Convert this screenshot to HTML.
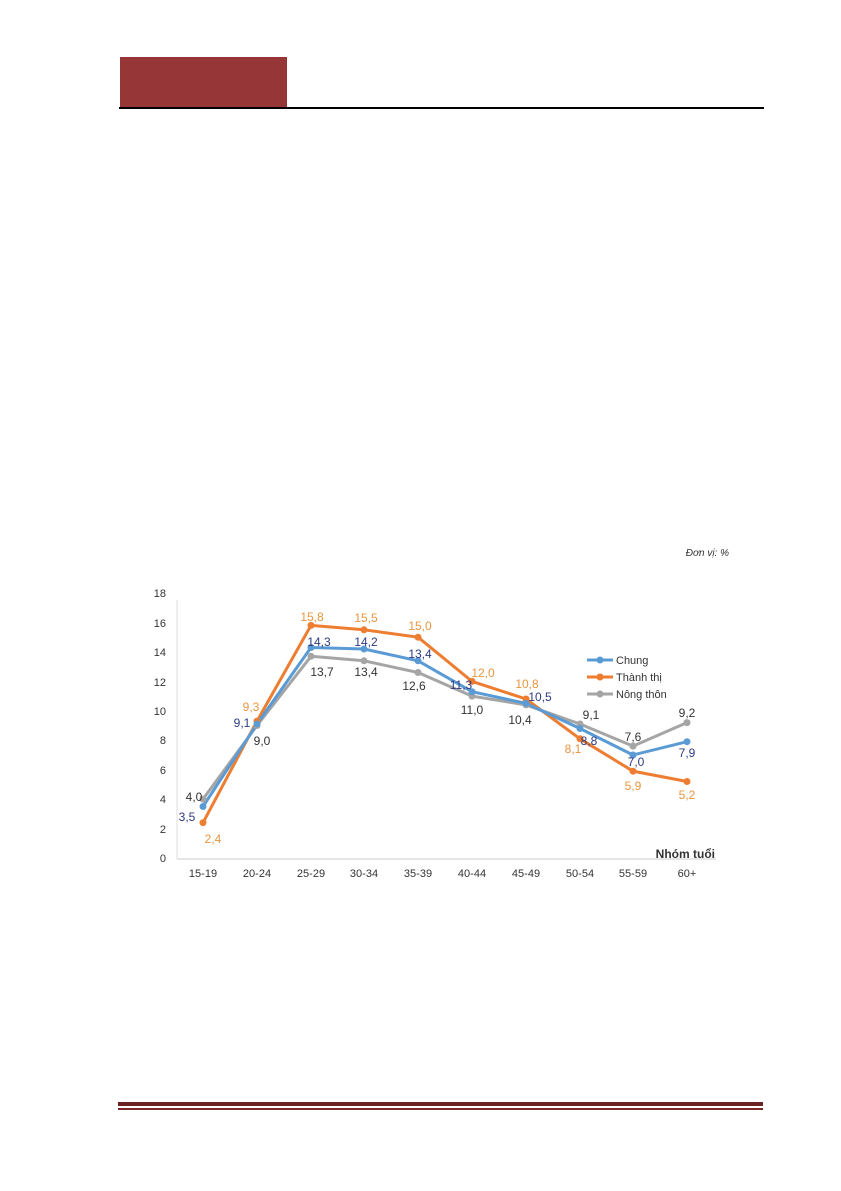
<!DOCTYPE html>
<html><head><meta charset="utf-8"><style>
body{margin:0;background:#fff;width:841px;height:1191px;position:relative;overflow:hidden;font-family:"Liberation Sans",sans-serif}
</style></head><body>
<div style="position:absolute;left:120px;top:57px;width:167px;height:50px;background:#963636"></div>
<div style="position:absolute;left:119px;top:107px;width:645px;height:1.5px;background:#000"></div>
<div style="position:absolute;left:118px;top:1102px;width:645px;height:4px;background:#6b2424"></div>
<div style="position:absolute;left:118px;top:1108px;width:645px;height:1.5px;background:#7a2a2a"></div>
<svg width="841" height="1191" style="position:absolute;left:0;top:0" font-family="Liberation Sans, sans-serif">
<text x="729" y="556" font-size="10" font-style="italic" text-anchor="end" fill="#333">Đơn vị: %</text>
<line x1="177" y1="600" x2="177" y2="859" stroke="#ddd"/>
<line x1="177" y1="859" x2="716" y2="859" stroke="#ccc"/>
<g font-size="11" fill="#333" text-anchor="end">
<text x="166" y="862">0</text><text x="166" y="833">2</text><text x="166" y="803">4</text><text x="166" y="774">6</text><text x="166" y="744">8</text><text x="166" y="715">10</text><text x="166" y="686">12</text><text x="166" y="656">14</text><text x="166" y="627">16</text><text x="166" y="597">18</text>
</g>
<g font-size="11" fill="#333" text-anchor="middle">
<text x="203" y="877">15-19</text><text x="257" y="877">20-24</text><text x="311" y="877">25-29</text><text x="364" y="877">30-34</text><text x="418" y="877">35-39</text><text x="472" y="877">40-44</text><text x="526" y="877">45-49</text><text x="580" y="877">50-54</text><text x="633" y="877">55-59</text><text x="687" y="877">60+</text>
</g>
<text x="715" y="858" font-size="12" font-weight="bold" fill="#333" text-anchor="end">Nhóm tuổi</text>
<g fill="none" stroke-width="3" stroke-linejoin="round">
<polyline stroke="#a5a5a5" points="203,799.1 257,725.5 311,656.3 364,660.8 418,672.5 472,696.1 526,704.9 580,724 633,746.1 687,722.6"/>
<polyline stroke="#ed7d31" points="203,822.7 257,721.1 311,625.4 364,629.8 418,637.2 472,681.4 526,699 580,738.8 633,771.2 687,781.5"/>
<polyline stroke="#5b9bd5" points="203,806.5 257,724 311,647.5 364,649 418,660.8 472,691.7 526,703.4 580,728.5 633,755 687,741.7"/>
</g>
<g fill="#a5a5a5"><circle cx="203" cy="799.1" r="3.5"/><circle cx="257" cy="725.5" r="3.5"/><circle cx="311" cy="656.3" r="3.5"/><circle cx="364" cy="660.8" r="3.5"/><circle cx="418" cy="672.5" r="3.5"/><circle cx="472" cy="696.1" r="3.5"/><circle cx="526" cy="704.9" r="3.5"/><circle cx="580" cy="724" r="3.5"/><circle cx="633" cy="746.1" r="3.5"/><circle cx="687" cy="722.6" r="3.5"/></g>
<g fill="#ed7d31"><circle cx="203" cy="822.7" r="3.5"/><circle cx="257" cy="721.1" r="3.5"/><circle cx="311" cy="625.4" r="3.5"/><circle cx="364" cy="629.8" r="3.5"/><circle cx="418" cy="637.2" r="3.5"/><circle cx="472" cy="681.4" r="3.5"/><circle cx="526" cy="699" r="3.5"/><circle cx="580" cy="738.8" r="3.5"/><circle cx="633" cy="771.2" r="3.5"/><circle cx="687" cy="781.5" r="3.5"/></g>
<g fill="#5b9bd5"><circle cx="203" cy="806.5" r="3.5"/><circle cx="257" cy="724" r="3.5"/><circle cx="311" cy="647.5" r="3.5"/><circle cx="364" cy="649" r="3.5"/><circle cx="418" cy="660.8" r="3.5"/><circle cx="472" cy="691.7" r="3.5"/><circle cx="526" cy="703.4" r="3.5"/><circle cx="580" cy="728.5" r="3.5"/><circle cx="633" cy="755" r="3.5"/><circle cx="687" cy="741.7" r="3.5"/></g>
<g font-size="12" text-anchor="middle" fill="#2e3a80">
<text x="187" y="821">3,5</text><text x="242" y="727">9,1</text><text x="319" y="646">14,3</text><text x="366" y="646">14,2</text><text x="420" y="658">13,4</text><text x="461" y="689">11,3</text><text x="540" y="701">10,5</text><text x="589" y="745">8,8</text><text x="636" y="766">7,0</text><text x="687" y="757">7,9</text>
</g>
<g font-size="12" text-anchor="middle" fill="#e8953f">
<text x="213" y="843">2,4</text><text x="251" y="711">9,3</text><text x="312" y="621">15,8</text><text x="366" y="622">15,5</text><text x="420" y="630">15,0</text><text x="483" y="677">12,0</text><text x="527" y="688">10,8</text><text x="573" y="753">8,1</text><text x="633" y="790">5,9</text><text x="687" y="799">5,2</text>
</g>
<g font-size="12" text-anchor="middle" fill="#333">
<text x="194" y="801">4,0</text><text x="262" y="745">9,0</text><text x="322" y="676">13,7</text><text x="366" y="676">13,4</text><text x="414" y="690">12,6</text><text x="472" y="714">11,0</text><text x="520" y="724">10,4</text><text x="591" y="719">9,1</text><text x="633" y="741">7,6</text><text x="687" y="717">9,2</text>
</g>
<g font-size="11" fill="#333">
<line x1="587" y1="660" x2="613" y2="660" stroke="#5b9bd5" stroke-width="3"/><circle cx="600" cy="660" r="3.5" fill="#5b9bd5"/><text x="616" y="664">Chung</text>
<line x1="587" y1="677" x2="613" y2="677" stroke="#ed7d31" stroke-width="3"/><circle cx="600" cy="677" r="3.5" fill="#ed7d31"/><text x="616" y="681">Thành thị</text>
<line x1="587" y1="694" x2="613" y2="694" stroke="#a5a5a5" stroke-width="3"/><circle cx="600" cy="694" r="3.5" fill="#a5a5a5"/><text x="616" y="698">Nông thôn</text>
</g>
</svg>
</body></html>
